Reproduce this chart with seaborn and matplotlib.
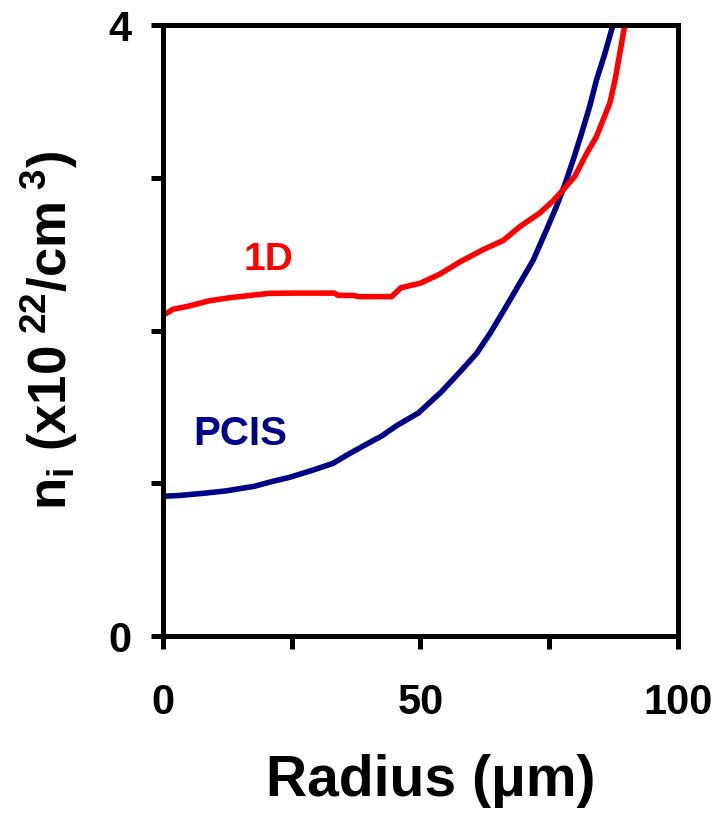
import matplotlib
matplotlib.use("Agg")
import matplotlib.pyplot as plt
import seaborn as sns
import pandas as pd

# ---- data ----
radius_1d = [0, 2, 5, 9, 13, 17, 20.5, 25, 30, 33.3, 34, 37, 38, 44.4, 46.2, 50,
             53.8, 57.7, 62.2, 66.1, 69.3, 73.2, 75.8, 77.7, 80.0, 82.3, 84.2,
             85.5, 86.8, 87.8, 88.7, 89.7]
ni_1d = [2.10, 2.14, 2.16, 2.195, 2.215, 2.23, 2.243, 2.245, 2.245, 2.245, 2.23,
         2.23, 2.222, 2.222, 2.28, 2.31, 2.37, 2.45, 2.53, 2.59, 2.68, 2.77,
         2.85, 2.92, 3.01, 3.16, 3.27, 3.38, 3.49, 3.64, 3.81, 4.0]

radius_pcis = [0, 3.1, 8, 12.2, 17.7, 21, 24.7, 29, 33, 36, 39.2, 42.5, 45.5,
               49.6, 54.1, 57.7, 60.9, 63.5, 66.7, 69.3, 71.9, 74.5, 76.4, 78.1,
               79.7, 81.3, 82.9, 84.2, 85.8, 87.4]
ni_pcis = [0.915, 0.92, 0.935, 0.95, 0.98, 1.01, 1.04, 1.085, 1.13, 1.19, 1.25,
           1.31, 1.38, 1.46, 1.60, 1.73, 1.85, 1.98, 2.16, 2.31, 2.46, 2.66,
           2.81, 2.96, 3.12, 3.29, 3.47, 3.64, 3.81, 4.0]

x_ticks = [0, 25, 50, 75, 100]
x_ticklabels = ["0", "", "50", "", "100"]
y_ticks = [0, 1, 2, 3, 4]
y_ticklabels = ["0", "", "", "", "4"]

# ---- style ----
sns.set_theme(style="ticks")
plt.rcParams["font.family"] = ["Liberation Sans", "DejaVu Sans"]
plt.rcParams["font.weight"] = "bold"
plt.rcParams["mathtext.fontset"] = "custom"
plt.rcParams["mathtext.rm"] = "Liberation Sans:bold"
plt.rcParams["mathtext.it"] = "Liberation Sans:bold"
plt.rcParams["mathtext.bf"] = "Liberation Sans:bold"
plt.rcParams["mathtext.default"] = "rm"

fig = plt.figure(figsize=(7.15, 8.21), dpi=100)
ax = fig.add_axes([0.228, 0.2253, 0.72, 0.7442])

red = "#FF0000"
navy = "#000088"

df1 = pd.DataFrame({"r": radius_1d, "n": ni_1d})
df2 = pd.DataFrame({"r": radius_pcis, "n": ni_pcis})
sns.lineplot(data=df2, x="r", y="n", color=navy, ax=ax)
sns.lineplot(data=df1, x="r", y="n", color=red, ax=ax)
for ln in ax.lines:
    ln.set_linewidth(4.0)
    ln.set_solid_capstyle("round")
    ln.set_solid_joinstyle("round")

ax.set_xlim(0, 100)
ax.set_ylim(0, 4)
ax.set_xticks(x_ticks)
ax.set_xticklabels(x_ticklabels)
ax.set_yticks(y_ticks)
ax.set_yticklabels(y_ticklabels)

for s in ax.spines.values():
    s.set_linewidth(3.6)
    s.set_color("black")

ax.tick_params(axis="both", direction="out", length=9, width=3.6, color="black",
               labelsize=30, labelcolor="black")
ax.tick_params(axis="x", pad=25)
ax.tick_params(axis="y", pad=14)
for lab in ax.get_xticklabels() + ax.get_yticklabels():
    lab.set_fontweight("bold")

ax.set_xlabel("Radius (\u03bcm)", fontsize=41, fontweight="bold", color="black")
ax.xaxis.set_label_coords(0.52, -0.237)
ax.xaxis.label.set_verticalalignment("center")

ax.set_ylabel(r"n$_{\mathregular{i}}$ (x10$^{\ 22}$/cm$^{\ 3}$)", fontsize=38,
              fontweight="bold", color="black")
ax.yaxis.set_label_coords(-0.22, 0.5)
ax.yaxis.label.set_verticalalignment("center")

ax.text(20.4, 2.465, "1D", color=red, fontsize=28, fontweight="bold",
        ha="center", va="center")
ax.text(15, 1.32, "PCIS", color=navy, fontsize=29, fontweight="bold",
        ha="center", va="center")

fig.savefig("out.png", dpi=100)
